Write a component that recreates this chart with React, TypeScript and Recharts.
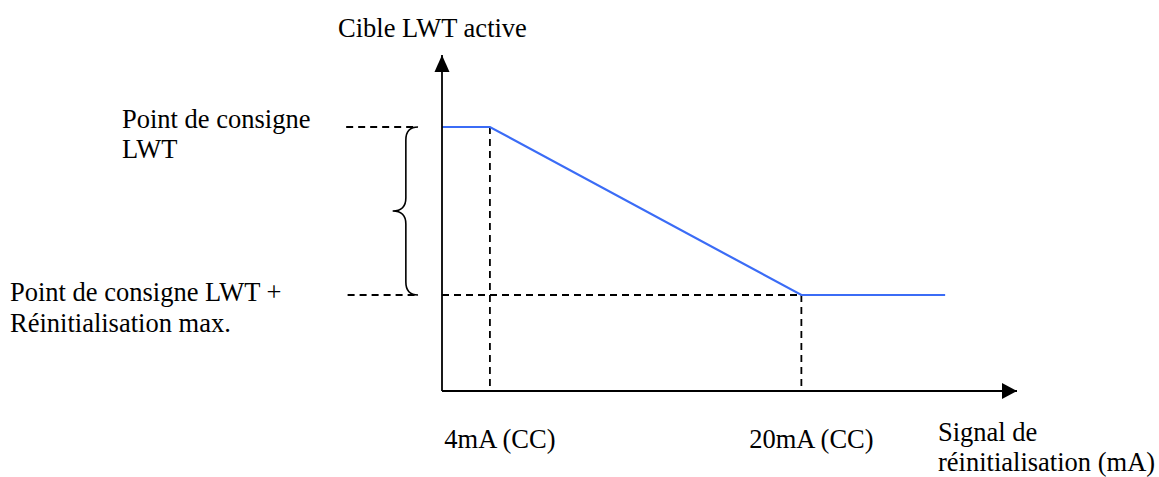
import React from 'react';
import { LineChart, Line, XAxis, YAxis, ReferenceLine, ReferenceArea, ReferenceDot } from 'recharts';

// Reset signal positions (schematic units along the x axis)
const signalPoints = [0, 1, 7.5, 10.5];
// Active LWT target (schematic units along the y axis)
const targetValues = [11, 11, 4, 4];
const xTicks = [1, 7.5];
const xTickLabels = ['4mA (CC)', '20mA (CC)'];
const yTicks = [4, 11];
const yTickLabels = [
  ['Point de consigne LWT +', 'Réinitialisation max.'],
  ['Point de consigne', 'LWT'],
];
const xAxisTitle = ['Signal de', 'réinitialisation (mA)'];
const yAxisTitle = 'Cible LWT active';
const X_MAX = 12;
const Y_MAX = 14;

const data = signalPoints.map((x, i) => ({ x, y: targetValues[i] }));

const FONT = '"Liberation Serif", "Times New Roman", serif';
const FS = 26.5;
const textStyle = { fontFamily: FONT, fontSize: FS } as React.CSSProperties;
const yLabelLayout = [
  { x: 10, dy: [6, 37] },
  { x: 122, dy: [1, 31] },
];

const XTick = (props: any) => {
  const { x, y, payload } = props;
  const i = xTicks.indexOf(payload.value);
  return (
    <text x={x + 10} y={y + 57} textAnchor="middle" style={textStyle} fill="#000">
      {xTickLabels[i]}
    </text>
  );
};

const YTick = (props: any) => {
  const { y, payload } = props;
  const i = yTicks.indexOf(payload.value);
  const lay = yLabelLayout[i];
  return (
    <g>
      {yTickLabels[i].map((line, k) => (
        <text key={k} x={lay.x} y={y + lay.dy[k]} textAnchor="start" style={textStyle} fill="#000">
          {line}
        </text>
      ))}
    </g>
  );
};

const Brace = (props: any) => {
  const { x, y, width, height } = props;
  const xr = x + width;
  const xm = x + width * 0.52;
  const xl = x;
  const yt = y;
  const yb = y + height;
  const ym = y + height / 2;
  const r = 13;
  const d = `M ${xr} ${yt} Q ${xm} ${yt} ${xm} ${yt + r} L ${xm} ${ym - r} Q ${xm} ${ym} ${xl} ${ym} Q ${xm} ${ym} ${xm} ${ym + r} L ${xm} ${yb - r} Q ${xm} ${yb} ${xr} ${yb}`;
  return <path d={d} fill="none" stroke="#000" strokeWidth={1.6} />;
};

const ArrowRight = (props: any) => {
  const { cx, cy } = props;
  return <polygon points={`${cx},${cy} ${cx - 15},${cy - 8} ${cx - 15},${cy + 8}`} fill="#000" />;
};

const ArrowUp = (props: any) => {
  const { cx, cy } = props;
  return <polygon points={`${cx},${cy} ${cx - 7.5},${cy + 17} ${cx + 7.5},${cy + 17}`} fill="#000" />;
};

const dash = '7 5';
const dashW = 1.8;

export default function App() {
  return (
    <div style={{ position: 'absolute', left: 0, top: 0, width: 1159, height: 477, background: '#fff' }}>
      <LineChart width={1159} height={477} data={data} margin={{ top: 55, right: 142, bottom: 0, left: 0 }}>
        <XAxis
          type="number"
          dataKey="x"
          domain={[0, X_MAX]}
          ticks={xTicks}
          interval={0}
          tickLine={false}
          tickSize={0}
          tickMargin={0}
          height={86}
          axisLine={{ stroke: '#000', strokeWidth: 1.8 }}
          tick={<XTick />}
          label={{
            content: () => (
              <g>
                {xAxisTitle.map((t, k) => (
                  <text key={k} x={938} y={441 + k * 30} style={textStyle} fill="#000">
                    {t}
                  </text>
                ))}
              </g>
            ),
          }}
        />
        <YAxis
          type="number"
          domain={[0, Y_MAX]}
          ticks={yTicks}
          interval={0}
          width={442}
          tickLine={false}
          tickSize={0}
          tickMargin={0}
          axisLine={{ stroke: '#000', strokeWidth: 1.8 }}
          tick={<YTick />}
          label={{
            content: () => (
              <text x={338} y={37} style={textStyle} fill="#000">
                {yAxisTitle}
              </text>
            ),
          }}
        />
        <ReferenceLine segment={[{ x: -2, y: targetValues[0] }, { x: -0.5, y: targetValues[0] }]} stroke="#000" strokeWidth={dashW} strokeDasharray={dash} ifOverflow="visible" />
        <ReferenceLine segment={[{ x: -1.97, y: targetValues[2] }, { x: -0.5, y: targetValues[2] }]} stroke="#000" strokeWidth={dashW} strokeDasharray={dash} ifOverflow="visible" />
        <ReferenceLine segment={[{ x: 0, y: targetValues[2] }, { x: signalPoints[2], y: targetValues[2] }]} stroke="#000" strokeWidth={dashW} strokeDasharray={dash} ifOverflow="visible" />
        <ReferenceLine segment={[{ x: signalPoints[1], y: targetValues[1] }, { x: signalPoints[1], y: 0 }]} stroke="#000" strokeWidth={dashW} strokeDasharray={dash} ifOverflow="visible" />
        <ReferenceLine segment={[{ x: signalPoints[2], y: targetValues[2] }, { x: signalPoints[2], y: 0 }]} stroke="#000" strokeWidth={dashW} strokeDasharray={dash} ifOverflow="visible" />
        <ReferenceArea x1={-1.03} x2={-0.5} y1={targetValues[2]} y2={targetValues[0]} ifOverflow="visible" shape={<Brace />} />
        <Line type="linear" dataKey="y" stroke="#3b6cf6" strokeWidth={2.2} dot={false} isAnimationActive={false} />
        <ReferenceDot x={X_MAX} y={0} ifOverflow="visible" shape={<ArrowRight />} />
        <ReferenceDot x={0} y={Y_MAX} ifOverflow="visible" shape={<ArrowUp />} />
      </LineChart>
    </div>
  );
}
